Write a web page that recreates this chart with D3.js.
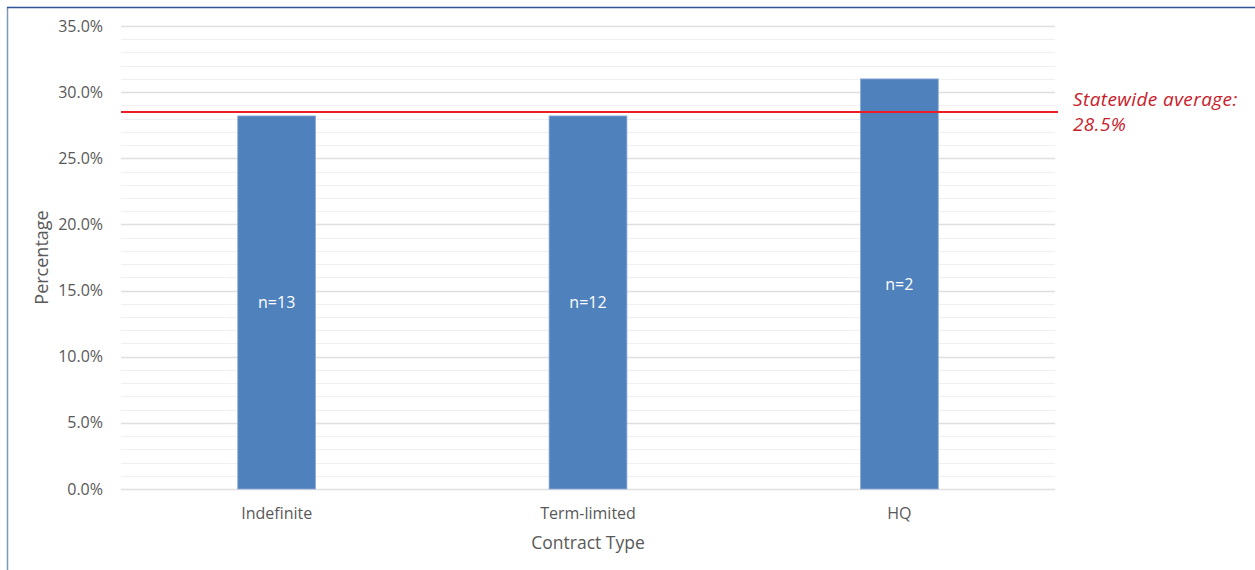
<!DOCTYPE html>
<html>
<head>
<meta charset="utf-8">
<script src="https://cdn.jsdelivr.net/npm/d3@7/dist/d3.min.js"></script>
<style>
  html, body { margin: 0; padding: 0; background: #fff; }
  svg { display: block; font-family: "Open Sans", sans-serif; }
</style>
</head>
<body>
<svg id="chart" width="1255" height="570"></svg>
<script>
// Share by contract type, with the statewide average as a reference line
const categories = ["Indefinite", "Term-limited", "HQ"];
const values = [0.282, 0.282, 0.310];
const counts = ["n=13", "n=12", "n=2"];
const statewideAverage = 0.285;
const yTicks = [0, 0.05, 0.10, 0.15, 0.20, 0.25, 0.30, 0.35];
const minorTicks = d3.range(0, 36).map(d => d / 100);

const svg = d3.select("#chart");
const W = 1255, H = 570;
const plot = { left: 121, right: 1055, top: 26, bottom: 489 };
const textGrey = "#595959";

// frame
svg.append("line").attr("x1", 7.5).attr("x2", 7.5).attr("y1", 7).attr("y2", H)
  .attr("stroke", "#7f97b8").attr("stroke-width", 1.5);
svg.append("line").attr("x1", 7).attr("x2", W).attr("y1", 7.5).attr("y2", 7.5)
  .attr("stroke", "#2f5597").attr("stroke-width", 1.5);

const x = d3.scaleBand().domain(categories).range([plot.left, plot.right]).paddingInner(0.75).paddingOuter(0.375);
const y = d3.scaleLinear().domain([0, 0.35]).range([plot.bottom, plot.top]);

// minor and major gridlines
svg.append("g").selectAll("line").data(minorTicks).join("line")
  .attr("x1", plot.left).attr("x2", plot.right)
  .attr("y1", d => Math.round(y(d)) + 0.5).attr("y2", d => Math.round(y(d)) + 0.5)
  .attr("stroke", "#f0f0f0").attr("stroke-width", 1.2);
svg.append("g").selectAll("line").data(yTicks).join("line")
  .attr("x1", plot.left).attr("x2", plot.right)
  .attr("y1", d => Math.round(y(d)) + 0.5).attr("y2", d => Math.round(y(d)) + 0.5)
  .attr("stroke", "#e0e0e0").attr("stroke-width", 1.5);

// y axis labels
const yAxis = d3.axisLeft(y).tickValues(yTicks).tickFormat(d3.format(".1%")).tickSize(0).tickPadding(0);
const ya = svg.append("g").attr("transform", `translate(103,0)`).call(yAxis);
ya.select(".domain").remove();
ya.selectAll("text").attr("fill", textGrey).style("font-size", "16px").style("font-family", "'Open Sans', sans-serif");

// bars
svg.append("g").selectAll("rect").data(categories).join("rect")
  .attr("x", d => x(d)).attr("width", x.bandwidth())
  .attr("y", (d, i) => y(values[i])).attr("height", (d, i) => y(0) - y(values[i]))
  .attr("fill", "#4f81bd").attr("stroke", "#8eaad8").attr("stroke-width", 0.8);

// count labels inside bars
svg.append("g").selectAll("text").data(categories).join("text")
  .attr("x", d => x(d) + x.bandwidth() / 2)
  .attr("y", (d, i) => (y(values[i]) + y(0)) / 2)
  .attr("dy", "0.35em").attr("text-anchor", "middle")
  .attr("fill", "#ffffff").style("font-size", "16px")
  .text((d, i) => counts[i]);

// x axis labels
const xAxis = d3.axisBottom(x).tickSize(0).tickPadding(0);
const xa = svg.append("g").attr("transform", `translate(0,${plot.bottom + 19})`).call(xAxis);
xa.select(".domain").remove();
xa.selectAll("text").attr("fill", textGrey).style("font-size", "16px").style("font-family", "'Open Sans', sans-serif");

// axis titles
svg.append("text").attr("x", (plot.left + plot.right) / 2).attr("y", 549)
  .attr("text-anchor", "middle").attr("fill", textGrey).style("font-size", "17.5px")
  .text("Contract Type");
svg.append("text").attr("transform", `translate(48,${(plot.top + plot.bottom) / 2}) rotate(-90)`)
  .attr("text-anchor", "middle").attr("fill", textGrey).style("font-size", "18px")
  .text("Percentage");

// statewide average line and label
svg.append("line").attr("x1", plot.left).attr("x2", 1058)
  .attr("y1", y(statewideAverage)).attr("y2", y(statewideAverage))
  .attr("stroke", "#ee1c25").attr("stroke-width", 2);
const lbl = svg.append("text").attr("x", 1073).attr("y", 106)
  .attr("fill", "#c8202a").style("font-size", "19px").style("font-style", "italic")
  .style("letter-spacing", "0.4px");
lbl.append("tspan").attr("x", 1073).text("Statewide average:");
lbl.append("tspan").attr("x", 1073).attr("dy", 25).text(d3.format(".1%")(statewideAverage));
</script>
</body>
</html>
